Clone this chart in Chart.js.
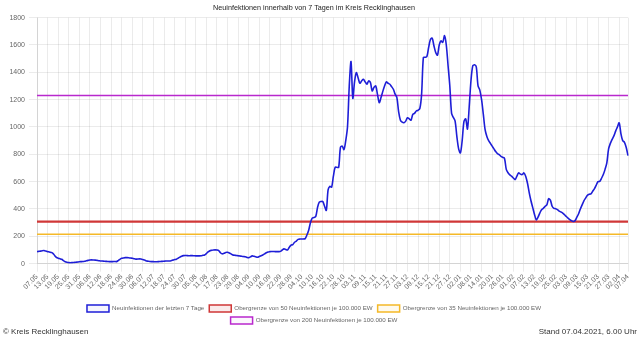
<!DOCTYPE html>
<html><head><meta charset="utf-8">
<script src="https://cdn.jsdelivr.net/npm/chart.js@4"></script>
<style>
html,body{margin:0;padding:0;background:#fff;}
#wrap{position:relative;width:640px;height:344px;font-family:"Liberation Sans",Arial,sans-serif;}
#box{position:absolute;left:0;top:0;width:640px;height:334px;}
.foot{position:absolute;top:327px;font-size:8px;color:#333;}
</style></head>
<body>
<div id="wrap">
<div id="box"><canvas id="c"></canvas></div>
<div class="foot" style="left:3px">© Kreis Recklinghausen</div>
<div class="foot" style="right:3px">Stand 07.04.2021, 6.00 Uhr</div>
</div>
<script>
const startDate = [2020, 4, 7];
const dayCount = 336;
const labels = [];
for (let i = 0; i < dayCount; i++) {
  const d = new Date(Date.UTC(startDate[0], startDate[1], startDate[2] + i));
  labels.push(String(d.getUTCDate()).padStart(2,'0') + '.' + String(d.getUTCMonth()+1).padStart(2,'0'));
}
const cases = [
88,90,92,95,96,92,88,86,82,76,60,46,40,36,32,22,14,10,8,7,
8,9,10,12,14,15,16,18,21,24,27,28,27,26,24,22,20,19,18,17,
16,15,15,15,16,15,22,32,39,42,44,44,43,41,40,36,33,34,35,34,
30,26,20,18,16,15,15,14,14,15,16,17,18,19,20,20,22,26,30,33,
40,48,55,59,60,59,58,59,59,58,57,57,57,58,61,64,74,86,95,98,
100,101,100,96,80,72,76,82,83,78,72,64,62,60,58,56,54,52,50,46,
44,50,57,54,50,47,52,58,64,72,80,86,88,89,89,88,88,88,90,100,
108,104,100,120,135,140,157,165,178,180,180,181,183,210,245,300,333,338,345,410,
450,455,455,420,390,540,566,560,640,705,705,705,850,860,835,900,1000,1300,1479,1210,
1330,1398,1360,1320,1337,1349,1330,1313,1337,1325,1264,1290,1300,1239,1178,1215,1260,1300,1330,1320,
1313,1295,1276,1240,1215,1110,1050,1035,1031,1043,1068,1060,1050,1092,1100,1117,1122,1135,1239,1508,
1510,1515,1582,1640,1650,1594,1545,1525,1600,1630,1619,1668,1600,1450,1300,1100,1070,1043,930,840,
810,900,1040,1060,985,1150,1340,1447,1455,1440,1300,1270,1200,1092,980,930,900,880,860,840,
820,805,798,785,778,770,690,665,650,640,627,615,640,664,655,652,664,640,590,520,
460,410,360,321,340,370,394,405,419,430,475,465,420,405,402,395,385,378,370,358,
345,333,322,314,309,315,340,365,400,430,460,480,500,508,510,530,549,575,600,602,
625,652,690,737,840,880,910,935,970,1000,1031,950,900,888,850,790
];
const limit50 = 307.6;
const limit35 = 215.3;
const limit200 = 1230.4;
const seriesNames = [
  'Neuinfektionen der letzten 7 Tage',
  'Obergrenze von 50 Neuinfektionen je 100.000 EW',
  'Obergrenze von 35 Neuinfektionen je 100.000 EW',
  'Obergrenze von 200 Neuinfektionen je 100.000 EW'
];
const yTicks = [0,200,400,600,800,1000,1200,1400,1600,1800];

const first = labels[0], last = labels[labels.length-1];
const hline = v => [{x:first,y:v},{x:last,y:v}];
const fam = '"Liberation Sans", Arial, sans-serif';
const font = {family:fam, size:7};
const defaultLabels = Chart.defaults.plugins.legend.labels.generateLabels;

new Chart(document.getElementById('c'), {
  type:'line',
  data:{
    labels: labels,
    datasets:[
      {label:seriesNames[0], data:cases, borderColor:'rgb(30,30,215)', backgroundColor:'rgba(30,30,215,0.04)', borderWidth:1.6, pointRadius:0, tension:0.3, fill:false},
      {label:seriesNames[1], data:hline(limit50), borderColor:'rgb(208,55,55)', backgroundColor:'rgba(208,55,55,0.1)', borderWidth:2.4, pointRadius:0, fill:false},
      {label:seriesNames[2], data:hline(limit35), borderColor:'rgb(245,185,40)', backgroundColor:'rgba(245,185,40,0.08)', borderWidth:1.6, pointRadius:0, fill:false},
      {label:seriesNames[3], data:hline(limit200), borderColor:'rgb(185,40,205)', backgroundColor:'rgba(185,40,205,0.04)', borderWidth:1.6, pointRadius:0, fill:false}
    ]
  },
  options:{
    responsive:true, maintainAspectRatio:false, animation:false,
    layout:{padding:{left:0,right:12,top:0,bottom:0}},
    plugins:{
      title:{display:true, text:'Neuinfektionen innerhalb von 7 Tagen im Kreis Recklinghausen', color:'#222', font:{family:fam,size:7.2,weight:'normal'}, padding:{top:4,bottom:5}},
      legend:{position:'bottom', labels:{boxWidth:22, boxHeight:7, font:{family:fam,size:6.2}, color:'#666', padding:5,
        generateLabels: ch => defaultLabels(ch).map(l => Object.assign(l, {lineWidth:1.5}))}},
      tooltip:{enabled:false}
    },
    scales:{
      x:{
        grid:{color:'rgba(0,0,0,0.08)'},
        ticks:{autoSkip:false, minRotation:45, maxRotation:45, font:font, color:'#666', padding:1},
        afterBuildTicks: s => { s.ticks = s.ticks.filter(t => t.value % 6 === 0 || t.value === labels.length-1); },
        afterFit: s => { s.height += 8; }
      },
      y:{
        min:0, max:1800,
        grid:{color:'rgba(0,0,0,0.08)'},
        afterBuildTicks: s => { s.ticks = yTicks.map(v => ({value:v})); },
        afterFit: s => { s.width = 37; },
        ticks:{font:font, color:'#666', padding:4, callback: v => String(v)}
      }
    }
  }
});
</script>
</body></html>
